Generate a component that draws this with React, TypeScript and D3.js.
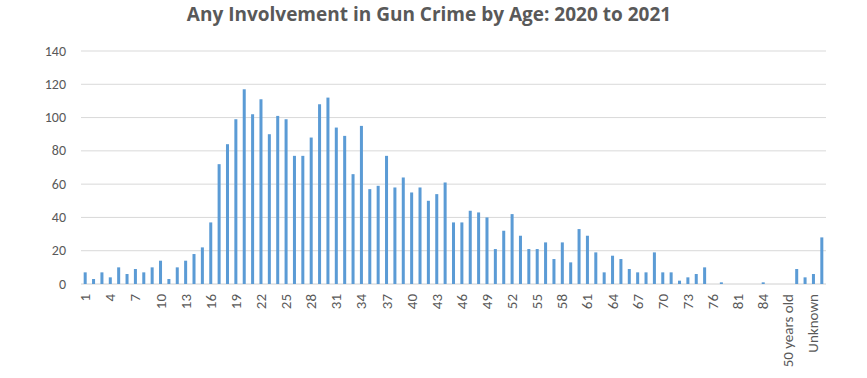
import React from "react";
import * as d3 from "d3";

const title = "Any Involvement in Gun Crime by Age: 2020 to 2021";

const ageCategories: string[] = [
  ...Array.from({ length: 76 }, (_, i) => String(i + 1)),
  "77", "79", "81", "82", "83", "84", "85", "87", "50 years old", "Not recorded", "Other", "Unknown", "Not known",
];

const counts: number[] = [
  7, 3, 7, 4, 10, 6, 9, 7, 10, 14,
  3, 10, 14, 18, 22, 37, 72, 84, 99, 117,
  102, 111, 90, 101, 99, 77, 77, 88, 108, 112,
  94, 89, 66, 95, 57, 59, 77, 58, 64, 55,
  58, 50, 54, 61, 37, 37, 44, 43, 40, 21,
  32, 42, 29, 21, 21, 25, 15, 25, 13, 33,
  29, 19, 7, 17, 15, 9, 7, 7, 19, 7,
  7, 2, 4, 6, 10, 0, 1, 0, 0, 0,
  0, 1, 0, 0, 0, 9, 4, 6, 28,
];

const yTicks = [0, 20, 40, 60, 80, 100, 120, 140];

export default function App() {
  const W = 867, H = 378;
  const left = 81, right = 826, top = 51, bottom = 284;
  const x = d3.scaleBand<number>()
    .domain(d3.range(ageCategories.length))
    .range([left, right])
    .paddingInner(0.64)
    .paddingOuter(0.32);
  const y = d3.scaleLinear().domain([0, 140]).range([bottom, top]);
  const font = "Carlito, Lato, 'Liberation Sans', Arial, sans-serif";
  return (
    <svg width={W} height={H} style={{ position: "absolute", left: 0, top: 0, background: "#fff" }}>
      <text x={429} y={21} textAnchor="middle" fontFamily="'Open Sans', sans-serif" fontWeight={700} fontSize={19} fill="#595959">{title}</text>
      {yTicks.map((t) => (
        <g key={t}>
          <line x1={left} x2={right} y1={y(t)} y2={y(t)} stroke={t === 0 ? "#d0d0d0" : "#d9d9d9"} strokeWidth={1} />
          <text x={66} y={y(t) + 4.5} textAnchor="end" fontFamily={font} fontSize={14} fill="#595959">{t}</text>
        </g>
      ))}
      {counts.map((v, i) => (
        <rect key={i} x={x(i)} y={y(v)} width={x.bandwidth()} height={y(0) - y(v)} fill="#5b9bd5" />
      ))}
      {ageCategories.map((c, i) => i % 3 === 0 ? (
        <text key={c + i} transform={`translate(${(x(i) as number) + x.bandwidth() / 2 + 5},${294}) rotate(-90)`} textAnchor="end" fontFamily={font} fontSize={15} fill="#595959">{c}</text>
      ) : null)}
    </svg>
  );
}
